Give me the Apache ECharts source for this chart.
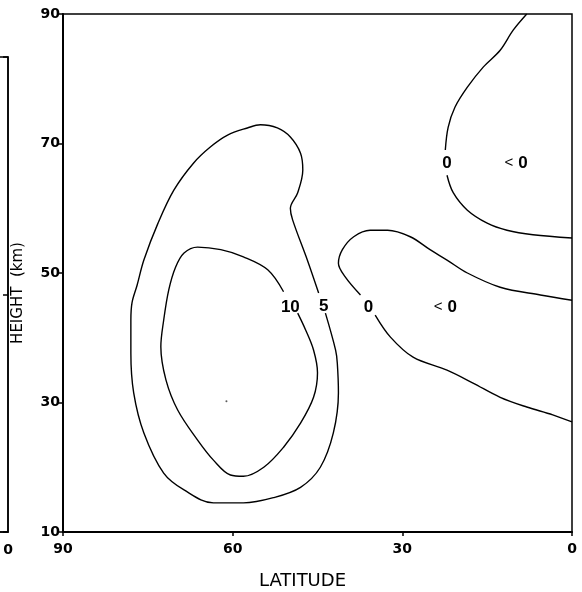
<!DOCTYPE html>
<html><head><meta charset="utf-8">
<script src="https://cdn.jsdelivr.net/npm/echarts@6/dist/echarts.min.js"></script>
<style>html,body{margin:0;padding:0;background:#fff}#c{width:582px;height:592px}</style>
</head><body><div id="c"></div>
<script>
// Axis ticks
const latTicks = [90, 60, 30, 0];
const heightTicks = [10, 30, 50, 70, 90];

// Contour lines: [latitude, height(km)]
const contour10 = [[48.5,43.8],[47.1,41.2],[45.7,38.1],[45.0,34.6],[45.7,30.8],[48.0,26.8],[51.0,23.1],[54.5,20.0],[58.1,18.6],[60.4,18.8],[63.4,21.1],[66.2,24.2],[69.7,28.8],[71.8,33.5],[72.7,38.6],[72.2,42.7],[71.3,47.4],[70.1,50.9],[68.6,53.1],[66.2,54.0],[62.1,53.6],[58.1,52.5],[53.8,50.5],[51.0,47.1]];
const contour5 = [[43.6,43.8],[41.8,38.1],[41.5,36.1],[41.3,31.5],[42.2,25.3],[44.5,20.0],[48.0,16.9],[52.8,15.3],[58.1,14.5],[63.4,14.5],[68.6,16.5],[72.2,19.1],[75.7,25.3],[77.5,31.5],[78.0,37.6],[78.0,42.7],[77.8,45.4],[76.9,48.1],[75.7,52.0],[73.2,57.7],[70.4,62.8],[66.9,67.0],[63.9,69.5],[60.9,71.3],[57.4,72.4],[55.1,72.9],[52.1,72.4],[49.8,71.0],[48.0,68.5],[47.6,65.9],[48.5,62.4],[49.8,60.0],[49.4,58.2],[46.8,52.0],[44.8,46.9]];
const contour0UpperA = [[8.0,90],[10.4,87.5],[12.7,84.4],[15.7,81.8],[18.5,78.7],[20.7,75.6],[21.9,72.5],[22.4,69.0]];
const contour0UpperB = [[22.1,65.1],[21.0,62.4],[18.5,59.7],[15.0,57.7],[11.5,56.6],[6.9,55.9],[0,55.4]];
const contour0MidA = [[0,45.8],[5.6,46.6],[12.7,47.8],[18.5,50.0],[22.1,52.0],[25.1,53.6],[28.6,55.6],[32.6,56.6],[35.7,56.6],[38.6,55.6],[40.6,53.6],[41.3,51.5],[40.1,49.4],[37.4,46.6]];
const contour0MidB = [[34.8,43.5],[32.1,40.1],[28.1,37.0],[22.1,35.0],[17.5,33.0],[12.7,30.8],[8.0,29.3],[3.4,28.1],[0,27.0]];

// Contour labels: [latitude, height, text]
const contourLabels = [[49.8,44.7,'10'],[43.9,44.9,'5'],[36.0,44.7,'0'],[22.4,44.7,'<0'],[22.1,67.0,'0'],[9.9,67.0,'<0']];
const specks = [[61.1,30.2]];

const FONT = 'DejaVu Sans';
const LFONT = 'Liberation Sans';
const chart = echarts.init(document.getElementById('c'));

function lineSeries(data){
  return {type:'line', xAxisIndex:0, yAxisIndex:0, data:data, showSymbol:false, symbol:'none',
    smooth:0.35, lineStyle:{color:'#000', width:1.4}, silent:true, animation:false, z:3};
}

chart.setOption({
  animation:false,
  backgroundColor:'#fff',
  grid:[
    {left:63, right:10, top:14, bottom:60, show:true, borderColor:'#000', borderWidth:1.5, containLabel:false, outerBoundsMode:'none'},
    {left:-10, width:18, top:57, bottom:60, show:true, borderColor:'#000', borderWidth:1.5, containLabel:false, outerBoundsMode:'none'}
  ],
  xAxis:[
    {type:'value', gridIndex:0, inverse:true, min:0, max:90, interval:30,
     axisLine:{show:true, onZero:false, lineStyle:{color:'#000', width:2}},
     axisTick:{show:true, length:4, lineStyle:{color:'#000', width:1.5}},
     axisLabel:{color:'#000', fontFamily:FONT, fontWeight:'bold', fontSize:14, margin:10,
       formatter:v=>latTicks.indexOf(v)>=0?String(v):''},
     splitLine:{show:false},
     name:'LATITUDE', nameLocation:'middle', nameGap:40,
     nameTextStyle:{color:'#000', fontFamily:FONT, fontSize:18, padding:[0,30,0,0]}},
    {type:'value', gridIndex:1, inverse:true, min:0, max:90, interval:90,
     axisLine:{show:true, onZero:false, lineStyle:{color:'#000', width:1.5}},
     axisTick:{show:false},
     axisLabel:{color:'#000', fontFamily:FONT, fontWeight:'bold', fontSize:14, margin:11,
       formatter:v=>v===0?'0':''},
     splitLine:{show:false}}
  ],
  yAxis:[
    {type:'value', gridIndex:0, min:10, max:90, interval:20,
     axisLine:{show:true, onZero:false, lineStyle:{color:'#000', width:2}},
     axisTick:{show:true, length:5, lineStyle:{color:'#000', width:1.5}},
     axisLabel:{color:'#000', fontFamily:FONT, fontWeight:'bold', fontSize:14, margin:3,
       formatter:v=>heightTicks.indexOf(v)>=0?String(v):''},
     splitLine:{show:false},
     name:'HEIGHT  (km)', nameLocation:'middle', nameGap:37, nameRotate:90,
     nameTextStyle:{color:'#000', fontFamily:FONT, fontSize:15, padding:[0,40,0,0]}},
    {type:'value', gridIndex:1, position:'right', min:0, max:2, interval:1,
     axisLine:{show:true, onZero:false, lineStyle:{color:'#000', width:1.5}},
     axisTick:{show:true, inside:true, length:5, lineStyle:{color:'#000', width:1.5}},
     axisLabel:{show:false}, splitLine:{show:false}}
  ],
  series:[
    lineSeries(contour10),
    lineSeries(contour5),
    lineSeries(contour0UpperA),
    lineSeries(contour0UpperB),
    lineSeries(contour0MidA),
    lineSeries(contour0MidB),
    {type:'scatter', xAxisIndex:0, yAxisIndex:0, symbolSize:0, silent:true, z:5,
     itemStyle:{color:'#000', opacity:1},
     data:contourLabels.map(d=>({value:[d[0],d[1]], name:d[2]})),
     label:{show:true, position:'inside', color:'#000', textBorderWidth:0, opacity:1, formatter:p=>{
        const t=p.name; return t.charAt(0)==='<' ? '{a|<}{b|0}' : '{b|'+t+'}';},
       rich:{a:{fontFamily:LFONT, fontSize:15, fontWeight:'normal', color:'#000', textBorderWidth:0, padding:[0,5,0,0]},
             b:{fontFamily:LFONT, fontSize:17, fontWeight:'bold', color:'#000', textBorderWidth:0}}}},
    {type:'scatter', xAxisIndex:0, yAxisIndex:0, symbolSize:2, silent:true,
     itemStyle:{color:'#333'}, data:specks}
  ]
});
</script></body></html>
